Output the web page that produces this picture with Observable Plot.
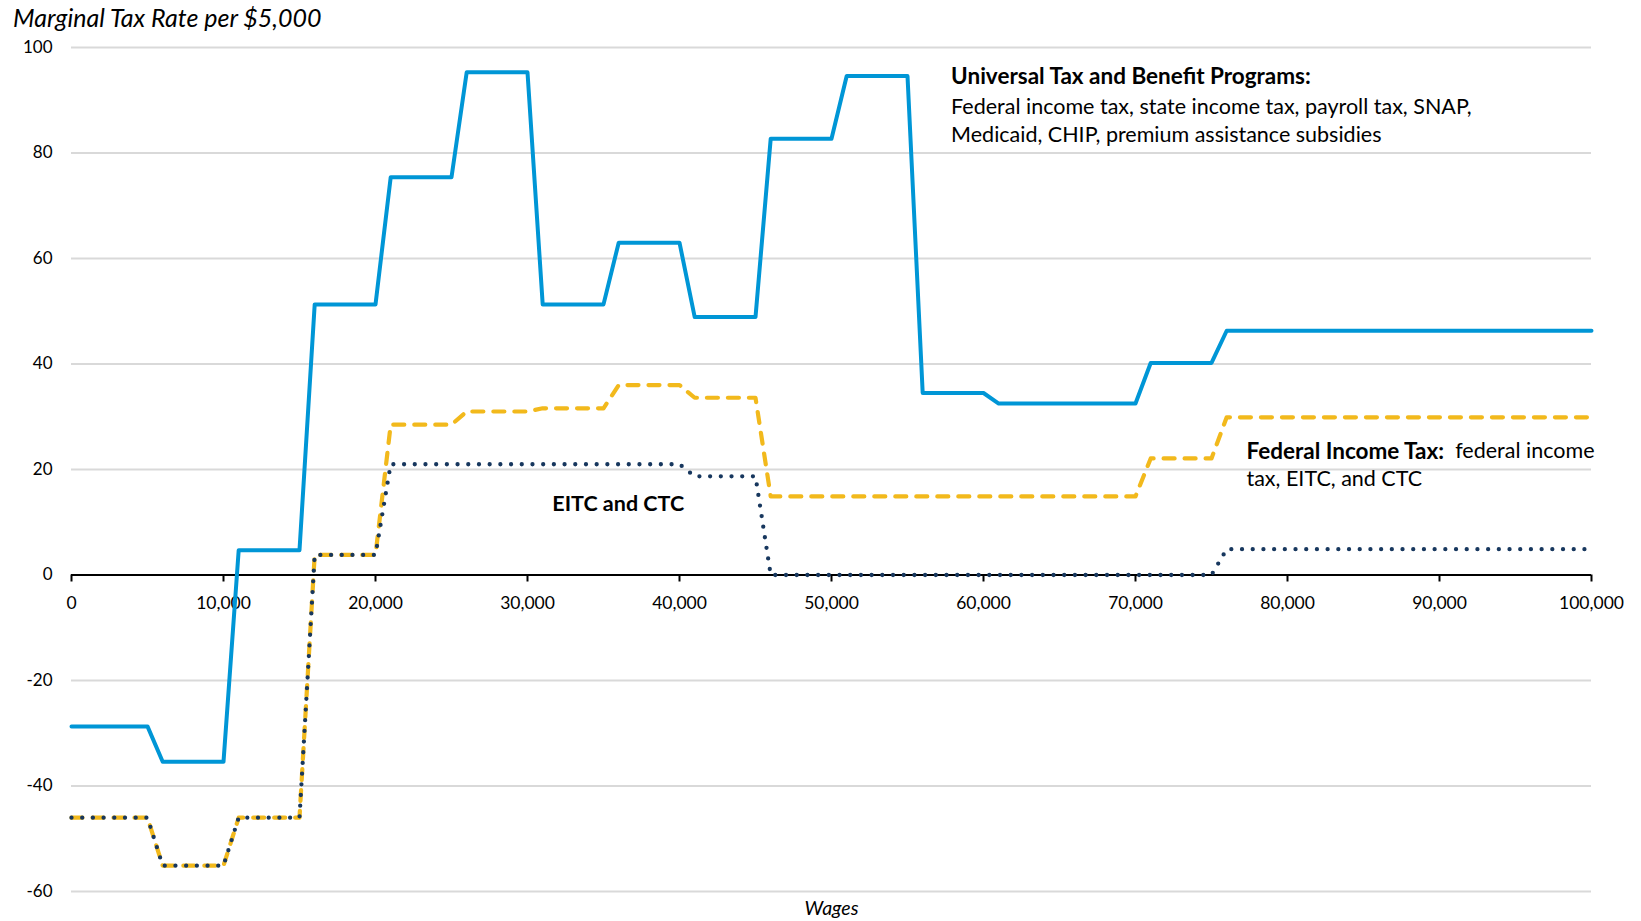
<!DOCTYPE html>
<html>
<head>
<meta charset="utf-8">
<script src="https://cdn.jsdelivr.net/npm/d3@7"></script>
<script src="https://cdn.jsdelivr.net/npm/@observablehq/plot@0.6"></script>
<style>
  body { margin: 0; background: #fff; width: 1641px; height: 921px; overflow: hidden; font-family: Lato, sans-serif; }
  #title { height: 36px; line-height: 34px; padding-left: 13px; font-style: italic; font-size: 25px; color: #000; white-space: nowrap; }
  #chart svg { display: block; }
</style>
</head>
<body>
<div id="title">Marginal Tax Rate per $5,000</div>
<div id="chart"></div>
<script>
// Lower bound of each $5,000 wage band
const bandStart = [0, 5000, 10000, 15000, 20000, 25000, 30000, 35000, 40000, 45000,
                   50000, 55000, 60000, 65000, 70000, 75000, 80000, 85000, 90000, 95000];
const wageMax = 100000;
const rampWidth = 1000; // rates change over the first $1,000 of each band

// Marginal tax rate per $5,000 band (%)
const universal = [-28.7, -35.4, 4.7, 51.3, 75.4, 95.3, 51.3, 63.0, 48.9, 82.7,
                   94.6, 34.5, 32.5, 32.5, 40.2, 46.3, 46.3, 46.3, 46.3, 46.3];
const federal   = [-46.0, -55.1, -46.0, 3.8, 28.5, 31.0, 31.6, 36.0, 33.6, 14.9,
                   14.9, 14.9, 14.9, 14.9, 22.1, 29.9, 29.9, 29.9, 29.9, 29.9];
const eitcCtc   = [-46.0, -55.1, -46.0, 3.8, 21.0, 21.0, 21.0, 21.0, 18.7, 0,
                   0, 0, 0, 0, 0, 4.9, 4.9, 4.9, 4.9, 4.9];

const xTicks = [0, 10000, 20000, 30000, 40000, 50000, 60000, 70000, 80000, 90000, 100000];
const yTicks = [-60, -40, -20, 0, 20, 40, 60, 80, 100];

function steps(values) {
  const pts = [];
  values.forEach((v, i) => {
    const lo = bandStart[i];
    const hi = i + 1 < bandStart.length ? bandStart[i + 1] : wageMax;
    pts.push({wage: i === 0 ? lo : lo + rampWidth, rate: v});
    pts.push({wage: hi, rate: v});
  });
  return pts;
}

const blue = "#0096d6", gold = "#f2b91c", navy = "#17375e";
const fmt = d3.format(",");
const boldSize = 22.5, regSize = 21.5;

const chart = Plot.plot({
  width: 1641,
  height: 885,
  marginTop: 11,
  marginBottom: 30,
  marginLeft: 71,
  marginRight: 50,
  style: {fontFamily: "Lato, sans-serif", fontSize: "17px", color: "#000", background: "#fff", overflow: "visible"},
  x: {domain: [0, wageMax], axis: null},
  y: {domain: [-60, 100], label: null},
  marks: [
    Plot.gridY(yTicks, {stroke: "#d9d9d9", strokeOpacity: 1, strokeWidth: 2}),
    Plot.axisY(yTicks, {tickSize: 0, tickPadding: 19, tickFormat: d => String(d), fontSize: 17, fill: "#000", label: null}),
    Plot.ruleY([0], {stroke: "#000", strokeWidth: 2}),
    Plot.ruleX(xTicks, {x: d => d, y1: 0, y2: 0, insetBottom: -7, stroke: "#000", strokeWidth: 2}),
    Plot.text(xTicks, {x: d => d, y: 0, text: d => fmt(d), dy: 28.5, fontSize: 17.5, fill: "#000"}),
    Plot.text(["Wages"], {frameAnchor: "bottom", dy: 23, fontSize: 19.5, fontStyle: "italic", fill: "#000"}),

    Plot.line(steps(universal), {x: "wage", y: "rate", stroke: blue, strokeWidth: 4, strokeLinejoin: "round"}),
    Plot.line(steps(federal), {x: "wage", y: "rate", stroke: gold, strokeWidth: 4.2, strokeDasharray: "11 10", strokeLinecap: "round"}),
    Plot.line(steps(eitcCtc), {x: "wage", y: "rate", stroke: navy, strokeWidth: 4.3, strokeDasharray: "0 10.7", strokeLinecap: "round"}),

    // Annotations
    Plot.text(["Universal Tax and Benefit Programs:"], {x: 57870, y: 94.5, textAnchor: "start", fontWeight: "bold", fontSize: boldSize, fill: "#000"}),
    Plot.text(["Federal income tax, state income tax, payroll tax, SNAP,\nMedicaid, CHIP, premium assistance subsidies"],
      {x: 57870, y: 86.35, textAnchor: "start", lineHeight: 28 / regSize, fontSize: regSize, fill: "#000"}),
    Plot.text(["EITC and CTC"], {x: 35970, y: 13.5, fontWeight: "bold", fontSize: 21.5, fill: "#000"}),
    Plot.text(["Federal Income Tax:"], {x: 77300, y: 23.4, textAnchor: "start", fontWeight: "bold", fontSize: boldSize, fill: "#000"}),
    Plot.text(["federal income"], {x: wageMax, y: 23.4, textAnchor: "end", dx: 3, fontSize: regSize, fill: "#000"}),
    Plot.text(["tax, EITC, and CTC"], {x: 77300, y: 18.1, textAnchor: "start", fontSize: regSize, fill: "#000"})
  ]
});
document.getElementById("chart").appendChild(chart);
</script>
</body>
</html>
